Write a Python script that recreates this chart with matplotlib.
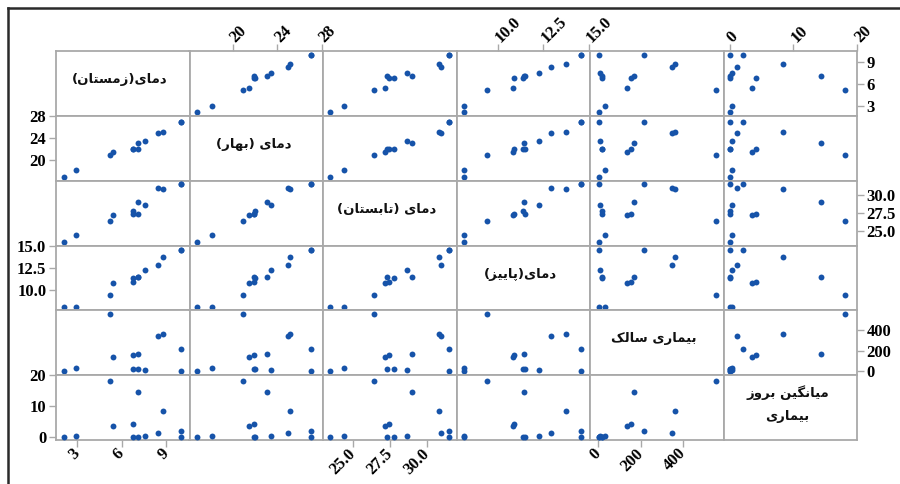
import matplotlib
matplotlib.use("Agg")
import matplotlib.pyplot as plt
from matplotlib.lines import Line2D

# ---- data: one entry per station / period ----
winter    = [2.1, 2.9, 5.2, 5.4, 6.75, 6.75, 7.1, 7.1, 7.55, 8.4, 8.75, 10.0, 10.0]
spring    = [16.8, 18.2, 20.9, 21.45, 21.95, 22.05, 23.1, 21.9, 23.45, 25.0, 25.15, 27.0, 27.0]
summer    = [23.5, 24.4, 26.4, 27.15, 27.4, 27.75, 28.95, 27.3, 28.6, 30.9, 30.8, 31.45, 31.45]
autumn    = [8.1, 8.1, 9.4, 10.8, 10.9, 11.4, 11.45, 11.5, 12.25, 12.9, 13.75, 14.6, 14.6]
salak     = [5, 32, 555, 135, 155, 20, 170, 20, 10, 345, 360, 215, 4]
incidence = [0.1, 0.3, 18.1, 3.45, 4.1, 0.1, 14.4, 0.1, 0.35, 1.2, 8.35, 2.0, 0.05]

var_names = ["دمای(زمستان)", "دمای (بهار)", "دمای (تابستان)",
             "دمای(پاییز)", "بیماری سالک", "میانگین بروز\nبیماری"]
var_ticks = [[3, 6, 9], [20, 24, 28], [25.0, 27.5, 30.0],
             [10.0, 12.5, 15.0], [0, 200, 400], [0, 10, 20]]
var_ticklabels = [["3", "6", "9"], ["20", "24", "28"], ["25.0", "27.5", "30.0"],
                  ["10.0", "12.5", "15.0"], ["0", "200", "400"], ["0", "10", "20"]]
var_limits = [(1.57, 10.55), (16.15, 28.1), (23.0, 31.95),
              (7.7, 15.08), (-37, 588), (-1.0, 20.0)]

columns = [winter, spring, summer, autumn, salak, incidence]

# ---- minimal Persian shaping (contextual forms + visual order) ----
FORMS = {  # iso, fin, ini, med
    'ا': ('\uFE8D', '\uFE8E', None, None),
    'ب': ('\uFE8F', '\uFE90', '\uFE91', '\uFE92'),
    'پ': ('\uFB56', '\uFB57', '\uFB58', '\uFB59'),
    'ت': ('\uFE95', '\uFE96', '\uFE97', '\uFE98'),
    'د': ('\uFEA9', '\uFEAA', None, None),
    'ر': ('\uFEAD', '\uFEAE', None, None),
    'ز': ('\uFEAF', '\uFEB0', None, None),
    'س': ('\uFEB1', '\uFEB2', '\uFEB3', '\uFEB4'),
    'ک': ('\uFB8E', '\uFB8F', '\uFB90', '\uFB91'),
    'گ': ('\uFB92', '\uFB93', '\uFB94', '\uFB95'),
    'ل': ('\uFEDD', '\uFEDE', '\uFEDF', '\uFEE0'),
    'م': ('\uFEE1', '\uFEE2', '\uFEE3', '\uFEE4'),
    'ن': ('\uFEE5', '\uFEE6', '\uFEE7', '\uFEE8'),
    'ه': ('\uFEE9', '\uFEEA', '\uFEEB', '\uFEEC'),
    'و': ('\uFEED', '\uFEEE', None, None),
    'ی': ('\uFBFC', '\uFBFD', '\uFBFE', '\uFBFF'),
}
MIRROR = {'(': ')', ')': '('}


def dual(ch):
    return ch in FORMS and FORMS[ch][2] is not None


def shape_line(s):
    out = []
    for i, ch in enumerate(s):
        if ch not in FORMS:
            out.append(MIRROR.get(ch, ch))
            continue
        prev = s[i - 1] if i > 0 else ''
        nxt = s[i + 1] if i + 1 < len(s) else ''
        jp = dual(prev)
        jn = dual(ch) and nxt in FORMS
        iso, fin, ini, med = FORMS[ch]
        if jp and jn:
            out.append(med)
        elif jp:
            out.append(fin)
        elif jn:
            out.append(ini)
        else:
            out.append(iso)
    return ''.join(reversed(out))


def shape(s):
    return '\n'.join(shape_line(l) for l in s.split('\n'))


# ---- figure ----
W, H = 900, 484
fig = plt.figure(figsize=(W / 100, H / 100), dpi=100)
fig.patch.set_facecolor('white')

x0, x1 = 56, 857
y0, y1 = 51, 440
n = 6
cw = (x1 - x0) / n
rh = (y1 - y0) / n

grid_col = '#a9a9a9'
dot_col = '#1653a9'
tick_font = dict(family='Liberation Serif', weight='bold', size=12)

for i in range(n):
    for j in range(n):
        left = (x0 + j * cw) / W
        bottom = 1 - (y0 + (i + 1) * rh) / H
        ax = fig.add_axes([left, bottom, cw / W, rh / H])
        ax.set_xlim(*var_limits[j])
        ax.set_ylim(*var_limits[i])
        for sp in ax.spines.values():
            sp.set_color(grid_col)
            sp.set_linewidth(1.3)
        ax.tick_params(which='both', bottom=False, top=False, left=False, right=False,
                       labelbottom=False, labeltop=False, labelleft=False, labelright=False,
                       direction='out', length=5, width=1, color=grid_col, pad=2)
        if i == j:
            ax.text(0.48, 0.56, shape(var_names[i]), transform=ax.transAxes,
                    ha='center', va='center', fontsize=9.5, fontweight='bold',
                    family='DejaVu Sans', color='#111111', linespacing=2.0)
        else:
            ax.scatter(columns[j], columns[i], s=18, color=dot_col, linewidths=0, zorder=3)

        # alternating outer axes
        top_ax = i == 0 and j % 2 == 1
        bot_ax = i == n - 1 and j % 2 == 0
        left_ax = j == 0 and i % 2 == 1
        right_ax = j == n - 1 and i % 2 == 0
        if top_ax:
            ax.xaxis.set_ticks_position('top')
            ax.set_xticks(var_ticks[j])
            ax.set_xticklabels(var_ticklabels[j], rotation=45, ha='left', va='center',
                               rotation_mode='anchor', **tick_font)
            ax.tick_params(axis='x', top=True, labeltop=True, pad=3)
        elif bot_ax:
            ax.set_xticks(var_ticks[j])
            ax.set_xticklabels(var_ticklabels[j], rotation=45, ha='right', va='center',
                               rotation_mode='anchor', **tick_font)
            ax.tick_params(axis='x', bottom=True, labelbottom=True, pad=3)
        else:
            ax.set_xticks([])
        if left_ax:
            ax.set_yticks(var_ticks[i])
            ax.set_yticklabels(var_ticklabels[i], **tick_font)
            ax.tick_params(axis='y', left=True, labelleft=True)
        elif right_ax:
            ax.yaxis.set_ticks_position('right')
            ax.set_yticks(var_ticks[i])
            ax.set_yticklabels(var_ticklabels[i], **tick_font)
            ax.tick_params(axis='y', right=True, labelright=True)
        else:
            ax.set_yticks([])

# page frame
fig.add_artist(Line2D([8 / W, 8 / W], [0, 1 - 8 / H], transform=fig.transFigure,
                      color='#2a2a2a', lw=1.8))
fig.add_artist(Line2D([8 / W, 1], [1 - 8 / H, 1 - 8 / H], transform=fig.transFigure,
                      color='#2a2a2a', lw=1.8))

fig.savefig('out.png', dpi=100, facecolor='white')
